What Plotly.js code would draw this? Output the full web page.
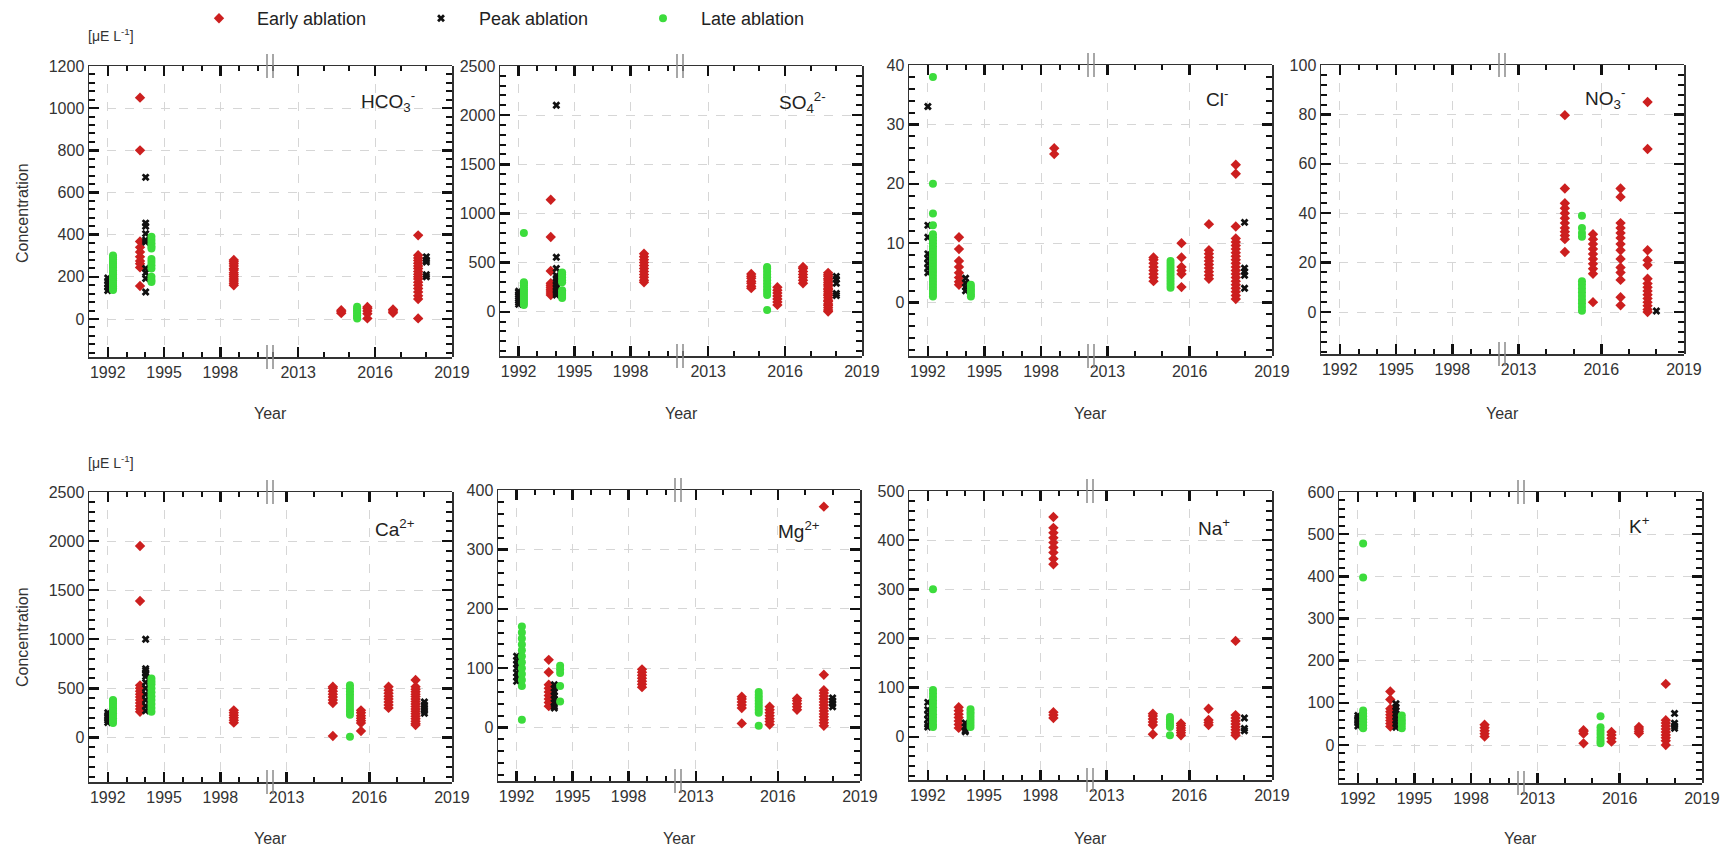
<!DOCTYPE html>
<html><head><meta charset="utf-8">
<script src="https://cdn.plot.ly/plotly-3.0.1.min.js"></script>
<style>html,body{margin:0;padding:0;background:#fff} .pn{position:absolute;left:0;top:0;width:1730px;height:853px}</style>
</head><body>
<div id="wrap" style="position:relative;width:1730px;height:853px"></div>
<script>
// ---------------- DATA (year of sampling group, concentrations in µE/L) ----------------
const ionLabels = ['HCO<sub>3</sub><sup>-</sup>', 'SO<sub>4</sub><sup>2-</sup>', 'Cl<sup>-</sup>', 'NO<sub>3</sub><sup>-</sup>',
                   'Ca<sup>2+</sup>', 'Mg<sup>2+</sup>', 'Na<sup>+</sup>', 'K<sup>+</sup>'];
const seriesNames = ['Early ablation', 'Peak ablation', 'Late ablation'];
const xTicksLeft = [1992, 1995, 1998];
const xTicksRight = [2013, 2016, 2019];
const yTop = [1200, 2500, 40, 100, 2500, 400, 500, 600];
const yBottom = [-180, -450, -9, -17, -455, -90, -88, -90];
const yStep = [200, 500, 10, 20, 500, 100, 100, 100];

const hco3Early = [
  [1993.72, [1050, 800, 368, 340, 318, 295, 275, 262, 245, 157]],
  [1998.72, [160, 170, 180, 190, 200, 210, 220, 232, 240, 252, 262, 272, 280]],
  [2014.68, [28, 35, 42]],
  [2015.7, [3, 25, 38, 50, 57]],
  [2016.7, [30, 38, 45]],
  [2017.68, [3, 95, 110, 128, 145, 160, 175, 190, 200, 212, 225, 240, 252, 265, 278, 290, 303, 397]]];
const hco3Peak = [
  [1992.0, [135, 150, 165, 180, 195]],
  [1994.02, [672, 455, 440, 405, 375, 365, 240, 220, 192, 128]],
  [2018.0, [295, 280, 270, 210, 200]]];
const hco3Late = [
  [1992.28, [138, 146, 155, 163, 172, 184, 193, 201, 212, 220, 231, 244, 252, 263, 271, 284, 293, 301]],
  [1994.33, [390, 375, 360, 345, 335, 285, 270, 255, 240, 200, 185, 176]],
  [2015.3, [2, 10, 18, 26, 34, 42, 50, 58]]];

const so4Early = [
  [1993.72, [1140, 760, 415, 290, 270, 250, 230, 210, 190, 170]],
  [1998.72, [300, 320, 350, 380, 410, 440, 470, 500, 530, 560, 590]],
  [2014.68, [240, 260, 290, 310, 340, 360, 385]],
  [2015.7, [70, 100, 130, 160, 190, 220, 250]],
  [2016.7, [290, 320, 350, 380, 410, 440, 455]],
  [2017.68, [2, 18, 41, 63, 79, 104, 118, 142, 165, 181, 203, 224, 238, 262, 279, 301, 322, 338, 361, 377, 396]]];
const so4Peak = [
  [1992.0, [75, 95, 115, 135, 155, 175, 195, 210]],
  [1994.02, [2100, 555, 440, 370, 340, 310, 280, 250, 220, 190, 170]],
  [2018.0, [360, 330, 290, 185, 165]]];
const so4Late = [
  [1992.28, [70, 90, 110, 130, 150, 170, 190, 210, 230, 250, 270, 290, 300, 800]],
  [1994.33, [400, 380, 350, 320, 300, 220, 200, 180, 160, 140]],
  [2015.3, [17, 170, 200, 230, 260, 290, 320, 350, 380, 410, 440, 455]]];

const clEarly = [
  [1993.65, [11, 9, 7, 6, 5, 4.2, 3.5, 3]],
  [1998.7, [26, 25]],
  [2014.68, [3.6, 4.2, 4.8, 5.4, 6, 6.6, 7.2, 7.6]],
  [2015.7, [10, 7.6, 6, 5.4, 4.8, 2.6]],
  [2016.7, [13.2, 8.8, 8.2, 7.6, 7, 6.4, 5.8, 5.2, 4.6, 4]],
  [2017.68, [23.2, 21.7, 12.8, 10.8, 10.2, 9.6, 9, 8.4, 7.8, 7.2, 6.6, 6, 5.4, 4.8, 4.2, 3.6, 3, 2.4, 1.8, 1.2, 0.6]]];
const clPeak = [
  [1992.0, [33, 13, 11, 8.2, 7.4, 6.6, 5.8, 5]],
  [1994.0, [4.1, 3.3, 2.6, 2.0]],
  [2018.0, [13.5, 5.8, 5.2, 4.6, 2.4]]];
const clLate = [
  [1992.27, [38, 20, 15, 13, 11.5, 11, 10.5, 10, 9.5, 9, 8.5, 8, 7.5, 7, 6.5, 6, 5.5, 5, 4.5, 4, 3.5, 3, 2.5, 2, 1.5, 1]],
  [1994.28, [3, 2.6, 2.2, 1.8, 1.4, 1.0]],
  [2015.3, [2.5, 3, 3.5, 4, 4.5, 5, 5.5, 6, 6.5, 7]]];

const no3Early = [
  [2014.68, [79.7, 50, 44, 42, 40, 38, 36, 34, 32.5, 31, 29.5, 24.3]],
  [2015.7, [31.5, 29.5, 27.5, 25.5, 23.5, 21.5, 19.5, 17.5, 15.5, 4]],
  [2016.7, [50, 46.6, 36, 34, 32, 30, 27.5, 25, 21.5, 18, 16, 13, 6, 2.7]],
  [2017.68, [85, 66, 25, 21, 19, 13.5, 11.5, 10, 8.5, 7, 5.5, 4, 2.5, 1, 0]]];
const no3Peak = [[2018.0, [0.4]]];
const no3Late = [[2015.3, [39, 34, 32, 30.5, 12.5, 11, 9.5, 8, 6.5, 5, 3.5, 2, 0.5]]];

const caEarly = [
  [1993.72, [1950, 1390, 530, 500, 470, 440, 410, 380, 350, 320, 290, 260]],
  [1998.72, [150, 175, 200, 225, 250, 275]],
  [2014.68, [14, 350, 380, 410, 440, 470, 500, 515]],
  [2015.7, [65, 145, 170, 195, 220, 250, 275]],
  [2016.7, [300, 330, 360, 390, 420, 450, 480, 515]],
  [2017.68, [585, 515, 490, 465, 440, 415, 390, 365, 340, 315, 290, 265, 240, 215, 190, 165, 140, 125]]];
const caPeak = [
  [1992.0, [150, 175, 200, 225, 250]],
  [1994.02, [1000, 700, 680, 650, 620, 560, 500, 440, 380, 320, 270]],
  [2018.0, [360, 330, 300, 270, 245]]];
const caLate = [
  [1992.28, [145, 170, 195, 220, 245, 270, 295, 320, 345, 370, 380]],
  [1994.33, [600, 570, 540, 500, 460, 420, 380, 340, 300, 260]],
  [2015.3, [7, 230, 260, 290, 320, 350, 380, 410, 440, 470, 500, 530]]];

const mgEarly = [
  [1993.72, [114, 93, 72, 66, 60, 54, 48, 42, 36]],
  [1998.72, [68, 73, 78, 83, 88, 93, 98]],
  [2014.68, [7, 33, 38, 43, 48, 52]],
  [2015.7, [5, 10, 15, 20, 25, 30, 35]],
  [2016.7, [30, 35, 40, 45, 49]],
  [2017.68, [372, 89, 63, 58, 53, 48, 43, 38, 33, 28, 23, 18, 13, 8, 3]]];
const mgPeak = [
  [1992.0, [78, 85, 92, 100, 107, 113, 120]],
  [1994.02, [72, 66, 60, 54, 48, 42, 36, 33]],
  [2018.0, [50, 45, 40, 35]]];
const mgLate = [
  [1992.28, [170, 160, 150, 140, 130, 120, 110, 100, 90, 80, 70, 13]],
  [1994.33, [104, 98, 92, 70, 44]],
  [2015.3, [3, 25, 30, 35, 40, 45, 50, 55, 60]]];

const naEarly = [
  [1993.65, [60, 53, 46, 39, 32, 25, 18]],
  [1998.7, [447, 425, 415, 405, 395, 385, 375, 362, 351, 50, 44, 38]],
  [2014.68, [5, 24, 30, 36, 42, 47]],
  [2015.7, [3, 8, 13, 18, 23, 27]],
  [2016.7, [57, 34, 29, 24]],
  [2017.68, [195, 44, 38, 32, 26, 20, 14, 8, 3]]];
const naPeak = [
  [1992.0, [70, 55, 45, 35, 25, 20]],
  [1994.0, [28, 20, 13, 10]],
  [2018.0, [38, 17, 12]]];
const naLate = [
  [1992.28, [300, 95, 88, 81, 74, 67, 60, 53, 46, 39, 32, 25, 20]],
  [1994.28, [56, 50, 44, 38, 32, 26, 20]],
  [2015.3, [3, 20, 25, 30, 35, 40]]];

const kEarly = [
  [1993.72, [127, 108, 86, 79, 72, 65, 58, 51, 44]],
  [1998.72, [20, 27, 34, 41, 48]],
  [2014.68, [4, 27, 32, 35]],
  [2015.7, [8, 16, 24, 31]],
  [2016.7, [28, 33, 38, 43]],
  [2017.68, [145, 59, 52, 45, 38, 31, 24, 17, 10, 0]]];
const kPeak = [
  [1992.0, [45, 52, 58, 64, 70]],
  [1994.02, [98, 90, 82, 74, 66, 58, 50, 42]],
  [2018.0, [75, 52, 45, 40]]];
const kLate = [
  [1992.28, [478, 397, 82, 75, 68, 61, 54, 47, 40]],
  [1994.33, [70, 62, 55, 48, 40]],
  [2015.3, [68, 42, 34, 26, 18, 10, 4]]];

const earlyData = [hco3Early, so4Early, clEarly, no3Early, caEarly, mgEarly, naEarly, kEarly];
const peakData = [hco3Peak, so4Peak, clPeak, no3Peak, caPeak, mgPeak, naPeak, kPeak];
const lateData = [hco3Late, so4Late, clLate, no3Late, caLate, mgLate, naLate, kLate];

// ---------------- LAYOUT / STYLE ----------------
const W = 1730, H = 853;
// [left, break, right, top, bottom] in pixels
const boxes = [
  [89, 270, 452, 66, 357],
  [500, 680, 862, 66, 356],
  [909, 1091, 1272, 65, 356],
  [1321, 1502, 1684, 65, 354],
  [89, 270, 452, 492, 782],
  [498, 678, 860, 490, 781],
  [909, 1090, 1272, 491, 780],
  [1339, 1521, 1702, 492, 783]
];
const leftRange = [1991, 2000.65];
const rightStarts = [2011.9, 2011.9, 2012.4, 2012.4, 2012.4, 2012.35, 2012.4, 2012.4];
const labelRight = [[417, 102], [828, 103], [1230, 98], [1627, 98], [417, 528], [822, 530], [1232, 527], [1652, 525]];

const FONT = 'Liberation Sans, Arial, sans-serif';
const styles = [
  {symbol: 'diamond', color: '#cc1f1f', size: 8},
  {symbol: 'x', color: '#111111', size: 7},
  {symbol: 'circle', color: '#3cdc3c', size: 8}
];
const allData = [earlyData, peakData, lateData];

const fx = px => px / W;
const fy = py => 1 - py / H;
const tickFont = () => ({family: FONT, size: 16, color: '#333'});

function xAxis(L, B, range, tick0, minor0) {
  return {
    domain: [fx(L), fx(B)], range: range, anchor: 'y',
    tickmode: 'linear', tick0: tick0, dtick: 3, tickangle: 0,
    ticks: 'inside', ticklen: 10, tickwidth: 2.5, tickcolor: '#111',
    showline: true, linecolor: '#333', linewidth: 1.5, mirror: 'ticks',
    showgrid: true, gridcolor: '#d6d6d6', griddash: 'dash', gridwidth: 1,
    zeroline: false, tickfont: tickFont(),
    minor: {tickmode: 'linear', tick0: minor0, dtick: 1, ticks: 'inside', ticklen: 5, tickwidth: 2, tickcolor: '#111', showgrid: false}
  };
}
function yAxis(p, extra) {
  return Object.assign({
    range: [yBottom[p], yTop[p]], tickmode: 'linear', tick0: 0, dtick: yStep[p],
    ticks: 'inside', ticklen: 10, tickwidth: 2.5, tickcolor: '#111',
    showline: true, linecolor: '#333', linewidth: 1.5, zeroline: false, tickfont: tickFont(),
    minor: {tickmode: 'linear', tick0: 0, dtick: yStep[p] / 5, ticks: 'inside', ticklen: 6, tickwidth: 2, tickcolor: '#111', showgrid: false}
  }, extra);
}

const wrap = document.getElementById('wrap');
for (let p = 0; p < 8; p++) {
  const [L, B, R, T, Bo] = boxes[p];
  const traces = [];
  for (let s = 0; s < 3; s++) {
    const lx = [], ly = [], rx = [], ry = [];
    allData[s][p].forEach(([yr, vals]) => {
      vals.forEach(v => {
        if (yr < 2005) { lx.push(yr); ly.push(v); } else { rx.push(yr); ry.push(v); }
      });
    });
    const mk = {symbol: styles[s].symbol, color: styles[s].color, size: styles[s].size};
    traces.push({type: 'scatter', mode: 'markers', x: lx, y: ly, xaxis: 'x', yaxis: 'y',
      marker: mk, name: seriesNames[s], showlegend: p === 0});
    traces.push({type: 'scatter', mode: 'markers', x: rx, y: ry, xaxis: 'x2', yaxis: 'y',
      marker: mk, name: seriesNames[s], showlegend: false});
  }
  // host for the right-hand frame axis
  traces.push({type: 'scatter', mode: 'markers', x: [], y: [], xaxis: 'x2', yaxis: 'y2', showlegend: false});

  const layout = {
    width: W, height: H, margin: {l: 0, r: 0, t: 0, b: 0},
    paper_bgcolor: 'rgba(0,0,0,0)', plot_bgcolor: 'rgba(0,0,0,0)',
    font: {family: FONT, color: '#222'},
    showlegend: p === 0,
    legend: {orientation: 'h', x: 181 / W, xanchor: 'left', y: fy(0), yanchor: 'top',
      font: {family: FONT, size: 18, color: '#222'}, itemwidth: 66, entrywidth: 141,
      bgcolor: 'rgba(0,0,0,0)', borderwidth: 0},
    xaxis: xAxis(L, B, leftRange, xTicksLeft[0], 1991),
    xaxis2: xAxis(B, R, [rightStarts[p], 2019.001], xTicksRight[0], 2013),
    yaxis: yAxis(p, {domain: [fy(Bo), fy(T)], anchor: 'x', side: 'left',
      showgrid: true, gridcolor: '#d6d6d6', griddash: 'dash', gridwidth: 1}),
    yaxis2: yAxis(p, {overlaying: 'y', anchor: 'free', position: fx(R), side: 'right',
      showgrid: false, showticklabels: false}),
    shapes: [], annotations: []
  };
  [T, Bo].forEach(yy => {
    [B - 3, B + 3].forEach(xx => {
      layout.shapes.push({type: 'line', xref: 'paper', yref: 'paper',
        x0: fx(xx), x1: fx(xx), y0: fy(yy - 12), y1: fy(yy + 12),
        line: {color: '#8a8a8a', width: 1.5}});
    });
  });
  layout.annotations.push({xref: 'paper', yref: 'paper', x: fx(labelRight[p][0]), y: fy(labelRight[p][1]),
    xanchor: 'right', yanchor: 'middle', showarrow: false, text: ionLabels[p],
    font: {family: FONT, size: 19, color: '#222'}});
  layout.annotations.push({xref: 'paper', yref: 'paper', x: fx((L + R) / 2), y: fy(p < 4 ? 413 : 838),
    xanchor: 'center', yanchor: 'middle', showarrow: false, text: 'Year',
    font: {family: FONT, size: 16, color: '#333'}});
  if (p === 0 || p === 4) {
    const cy = p === 0 ? 213 : 637, uy = p === 0 ? 35 : 462;
    layout.annotations.push({xref: 'paper', yref: 'paper', x: fx(22), y: fy(cy), xanchor: 'center', yanchor: 'middle',
      textangle: -90, showarrow: false, text: 'Concentration', font: {family: FONT, size: 16, color: '#333'}});
    layout.annotations.push({xref: 'paper', yref: 'paper', x: fx(86), y: fy(uy), xanchor: 'left', yanchor: 'middle',
      showarrow: false, text: '[μE L<sup>-1</sup>]', font: {family: FONT, size: 14, color: '#333'}});
  }
  const div = document.createElement('div');
  div.className = 'pn';
  wrap.appendChild(div);
  Plotly.newPlot(div, traces, layout, {displayModeBar: false, staticPlot: true});
}
</script>
</body></html>
